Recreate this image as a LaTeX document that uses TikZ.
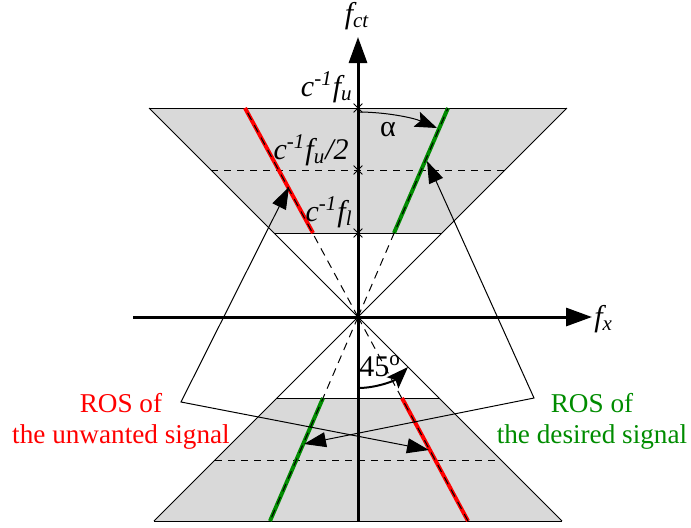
\documentclass[tikz,border=0pt]{standalone}
\usepackage{fontspec}
\setmainfont{Liberation Serif}
\usetikzlibrary{arrows.meta,shapes.misc}
\definecolor{conegray}{gray}{0.85}
\definecolor{rosred}{RGB}{255,0,0}
\definecolor{rosgreen}{RGB}{0,140,0}
\tikzset{ptip/.tip={Triangle[length=11pt,width=7.5pt]}}
\begin{document}
\begin{tikzpicture}[x=0.5pt,y=-0.5pt,
  thinline/.style={line width=0.5pt},
  axisline/.style={line width=1.5pt,-{Triangle[length=13pt,width=9pt]}},
  pointer/.style={line width=0.5pt},
  rayline/.style={line width=0.5pt,dash pattern=on 4pt off 3pt},
  levelline/.style={line width=0.5pt,dash pattern=on 3.5pt off 3pt},
  rosline/.style={line width=2pt},
  axtick/.style={draw,cross out,minimum size=4pt,inner sep=0pt,line width=0.4pt},
  lab/.style={font=\fontsize{15}{18}\selectfont\itshape,inner sep=0pt},
  anglab/.style={font=\fontsize{15}{18}\selectfont,inner sep=0pt},
  ros/.style={font=\fontsize{13.6}{15.5}\selectfont,align=center,inner sep=0pt}]
\useasboundingbox (0,0) rectangle (691,527);

% key points
\coordinate (O) at (358,317);
\coordinate (UL) at (149,108);
\coordinate (UR) at (567,108);
\coordinate (UBL) at (274,233);
\coordinate (UBR) at (442,233);
\coordinate (LTL) at (277,398);
\coordinate (LTR) at (439,398);
\coordinate (LL) at (154,521);
\coordinate (LR) at (562,521);

% gray regions
\fill[conegray] (UL) -- (UR) -- (UBR) -- (UBL) -- cycle;
\fill[conegray] (LTL) -- (LTR) -- (LR) -- (LL) -- cycle;

% level lines
\coordinate (HU1) at (211,170);
\coordinate (HU2) at (505,170);
\coordinate (HL1) at (215,460);
\coordinate (HL2) at (501,460);
\draw[levelline] (HU1) -- (HU2);
\draw[levelline] (HL1) -- (HL2);

% trapezoid edges and cone lines
\draw[thinline] (UL) -- (UR);
\draw[thinline] (UBL) -- (UBR);
\draw[thinline] (LTL) -- (LTR);
\draw[thinline] (LL) -- (LR);
\draw[thinline] (O) -- (UL);
\draw[thinline] (O) -- (UR);
\draw[thinline] (O) -- (LL);
\draw[thinline] (O) -- (LR);

% ROS lines
\coordinate (RU1) at (245,108);
\coordinate (RU2) at (313,233);
\coordinate (GU1) at (448,108);
\coordinate (GU2) at (394,233);
\coordinate (GL1) at (323,398);
\coordinate (GL2) at (270,521);
\coordinate (RL1) at (402,398);
\coordinate (RL2) at (468,521);
\draw[rosline,rosred] (RU1) -- (RU2);
\draw[rosline,rosgreen] (GU1) -- (GU2);
\draw[rosline,rosgreen] (GL1) -- (GL2);
\draw[rosline,rosred] (RL1) -- (RL2);
\draw[rayline] (O) -- (RU1);
\draw[rayline] (O) -- (GU1);
\draw[rayline] (O) -- (GL2);
\draw[rayline] (O) -- (RL2);

% axes
\coordinate (XS) at (133,317);
\coordinate (XE) at (592,317);
\coordinate (YS) at (358,521);
\coordinate (YE) at (358,37);
\draw[axisline] (XS) -- (XE);
\draw[axisline] (YS) -- (YE);
\node[lab,anchor=west] (fx) at (594,319) {f\textsubscript{x}};
\node[lab] (fct) at (357,16) {f\textsubscript{ct}};

% ticks
\node[axtick] (t1) at (358,108) {};
\node[axtick] (t2) at (358,170) {};
\node[axtick] (t3) at (358,233) {};
\node[lab,anchor=south east] (lfu) at (353,103) {c\textsuperscript{-1}f\textsubscript{u}};
\node[lab,anchor=south east] (lfu2) at (349,166) {c\textsuperscript{-1}f\textsubscript{u}/2};
\node[lab,anchor=south east] (lfl) at (353,228) {c\textsuperscript{-1}f\textsubscript{l}};

% angle alpha
\coordinate (AS) at (358,112);
\coordinate (AE) at (437,128);
\draw[pointer,-{Stealth[length=11pt,width=8pt,inset=2pt]}] (AS) .. controls (385.5,112) and (412.8,117.6) .. (AE);
\node[anglab] (alpha) at (388,130) {α};

% angle 45
\coordinate (BS) at (358,388);
\coordinate (BE) at (408,367);
\draw[line width=1pt,-{Stealth[length=11pt,width=8pt,inset=2pt]}] (BS) .. controls (376.8,388) and (394.9,380.5) .. (BE);
\node[anglab] (deg) at (380,366) {45\textsuperscript{o}};

% labels and pointers
\node[ros,text=rosred] (rosu) at (121,421) {ROS of\\the unwanted signal};
\node[ros,text=rosgreen] (rosd) at (592,421) {ROS of\\the desired signal};
\coordinate (A) at (181,402);
\coordinate (B) at (534,398);
\coordinate (PA1) at (289,187);
\coordinate (PA2) at (429,450);
\coordinate (PB1) at (427,161);
\coordinate (PB2) at (304,444);
\draw[pointer,{ptip}-{ptip}] (PA1) -- (A) -- (PA2);
\draw[pointer,{ptip}-{ptip}] (PB1) -- (B) -- (PB2);
\end{tikzpicture}
\end{document}
